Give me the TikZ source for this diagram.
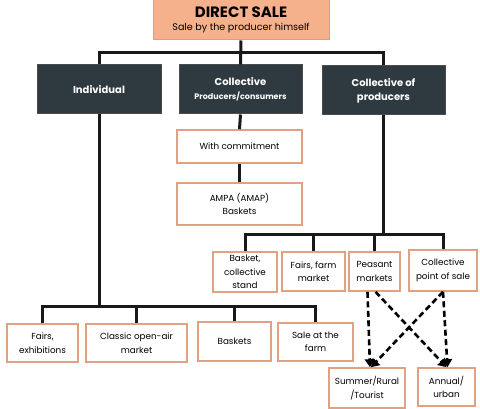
\documentclass[tikz,border=0pt]{standalone}
\usepackage{fontspec}
\setmainfont{Poppins}
\usetikzlibrary{arrows.meta}
\definecolor{salmon}{HTML}{F5B08C}
\definecolor{salmonedge}{HTML}{E59A78}
\definecolor{darkbox}{HTML}{2F3A40}
\definecolor{tanedge}{HTML}{E0A283}
\begin{document}
\begin{tikzpicture}[x=1pt,y=-1pt,
  topbox/.style={draw=salmonedge,fill=salmon,line width=1pt,minimum width=176pt,minimum height=40pt,align=center,inner sep=1pt},
  darkbx/.style={draw=black!70,fill=darkbox,line width=1pt,text=white,font=\bfseries\fontsize{10}{14}\selectfont,align=center,inner sep=1pt},
  leaf/.style={draw=tanedge,fill=white,line width=1.6pt,font=\fontsize{8.8}{13.5}\selectfont,align=center,inner sep=1pt},
  conn/.style={line width=3pt,black!90},
  dconn/.style={line width=2.6pt,dash pattern=on 6pt off 3.5pt,-{Triangle[length=8pt,width=10pt]}}
]
\useasboundingbox (0,0) rectangle (480,409);
\node[topbox] (top) at (241,20) {{\bfseries\fontsize{15}{15}\selectfont DIRECT SALE}\\[1pt]{\fontsize{9.6}{11}\selectfont Sale by the producer himself}};
\node[darkbx,minimum width=124pt,minimum height=49pt] (ind) at (99,89.5) {Individual};
\node[darkbx,minimum width=123pt,minimum height=49pt] (col) at (240.5,89.5) {Collective\\[0pt]{\fontsize{8}{10}\selectfont Producers/consumers}};
\node[darkbx,minimum width=123pt,minimum height=49pt] (colp) at (383.5,90.5) {Collective of\\producers};
\node[leaf,minimum width=125pt,minimum height=33pt] (wc) at (239.5,146.5) {With commitment};
\node[leaf,minimum width=125pt,minimum height=42pt] (ampa) at (239.5,204) {AMPA (AMAP)\\Baskets};
\node[leaf,minimum width=64pt,minimum height=40pt] (bask) at (245,272) {Basket,\\collective\\stand};
\node[leaf,minimum width=63pt,minimum height=39pt] (fairs) at (313.5,271.5) {Fairs, farm\\market};
\node[leaf,minimum width=51pt,minimum height=39pt] (peas) at (374.5,271.5) {Peasant\\markets};
\node[leaf,minimum width=68pt,minimum height=41pt] (cps) at (443,270.5) {Collective\\point of sale};
\node[leaf,minimum width=71pt,minimum height=38pt] (fe) at (42.5,343) {Fairs,\\exhibitions};
\node[leaf,minimum width=101pt,minimum height=38pt] (coa) at (136.5,343) {Classic open-air\\market};
\node[leaf,minimum width=73pt,minimum height=39pt] (bk) at (234.5,341.5) {Baskets};
\node[leaf,minimum width=75pt,minimum height=38pt] (saf) at (315.5,342) {Sale at the\\farm};
\node[leaf,minimum width=76pt,minimum height=40pt] (sum) at (367,388) {Summer/Rural\\/Tourist};
\node[leaf,minimum width=57pt,minimum height=38pt] (ann) at (446.5,387) {Annual/\\urban};
% top level
\coordinate (j0) at (240.5,53);
\draw[conn] (top.south) -- (col.north);
\draw[conn] (ind.north) |- (j0) -| (colp.north);
% collective
\draw[conn] (col.south) -- (wc.north);
\draw[conn] (wc.south) -- (ampa.north);
% collective of producers
\coordinate (j2) at (383.5,235);
\draw[conn] (colp.south) -- (j2);
\draw[conn] (bask.north) |- (j2) -| (cps.north);
\draw[conn] (fairs.north) -- (fairs.north |- j2);
\draw[conn] (peas.north) -- (peas.north |- j2);
% individual
\coordinate (j1) at (99,307);
\draw[conn] (ind.south) -- (j1);
\draw[conn] (fe.north) |- (j1) -| (saf.north);
\draw[conn] (coa.north) -- (coa.north |- j1);
\draw[conn] (bk.north) -- (bk.north |- j1);
% dashed arrows
\draw[dconn] ([xshift=-7pt]peas.south) -- ([xshift=3pt]sum.north);
\draw[dconn] ([xshift=1pt]peas.south) -- (ann.north);
\draw[dconn] (cps.south) -- ([xshift=4pt]sum.north);
\draw[dconn] (cps.south) -- ([xshift=1pt]ann.north);
\end{tikzpicture}
\end{document}
